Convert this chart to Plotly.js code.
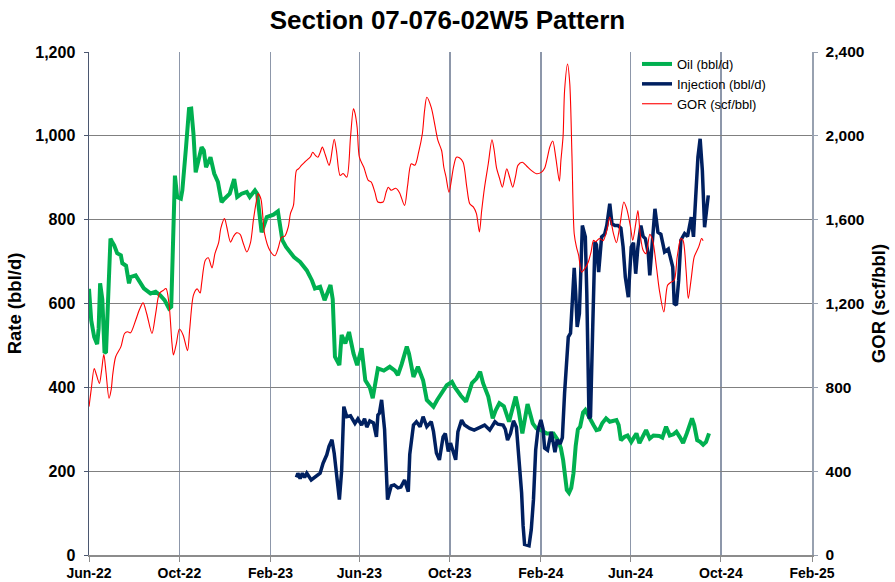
<!DOCTYPE html>
<html><head><meta charset="utf-8">
<script src="https://cdn.plot.ly/plotly-3.0.1.min.js"></script>
<style>html,body{margin:0;padding:0;background:#fff}#chart{width:895px;height:582px}</style>
</head><body><div id="chart"></div>
<script>
const chartTitle = 'Section 07-076-02W5 Pattern';
const xTickVals = ['2022-06-01','2022-10-01','2023-02-01','2023-06-01','2023-10-01','2024-02-01','2024-06-01','2024-10-01','2025-02-01'];
const xTickText = ['Jun-22','Oct-22','Feb-23','Jun-23','Oct-23','Feb-24','Jun-24','Oct-24','Feb-25'];

const oilDates = ['2022-06-01','2022-06-04','2022-06-08','2022-06-12','2022-06-14','2022-06-16','2022-06-19','2022-06-22','2022-06-24','2022-06-27','2022-06-30','2022-07-02','2022-07-05','2022-07-09','2022-07-14','2022-07-16','2022-07-21','2022-07-25','2022-07-27','2022-08-03','2022-08-08','2022-08-14','2022-08-23','2022-08-30','2022-09-05','2022-09-11','2022-09-17','2022-09-20','2022-09-25','2022-09-28','2022-10-03','2022-10-05','2022-10-10','2022-10-14','2022-10-17','2022-10-20','2022-10-23','2022-10-28','2022-10-31','2022-11-03','2022-11-06','2022-11-12','2022-11-17','2022-11-22','2022-11-27','2022-12-01','2022-12-08','2022-12-14','2022-12-18','2022-12-24','2022-12-31','2023-01-04','2023-01-11','2023-01-14','2023-01-20','2023-01-27','2023-02-05','2023-02-11','2023-02-17','2023-02-22','2023-02-27','2023-03-05','2023-03-13','2023-03-17','2023-03-22','2023-03-29','2023-04-02','2023-04-09','2023-04-15','2023-04-23','2023-04-26','2023-04-29','2023-05-05','2023-05-08','2023-05-13','2023-05-18','2023-05-24','2023-05-29','2023-06-04','2023-06-09','2023-06-15','2023-06-19','2023-06-26','2023-07-04','2023-07-12','2023-07-19','2023-07-23','2023-07-28','2023-08-04','2023-08-07','2023-08-13','2023-08-19','2023-08-26','2023-08-31','2023-09-09','2023-09-14','2023-09-22','2023-09-27','2023-10-04','2023-10-08','2023-10-16','2023-10-23','2023-10-31','2023-11-06','2023-11-11','2023-11-15','2023-11-22','2023-11-28','2023-12-02','2023-12-07','2023-12-13','2023-12-20','2023-12-29','2024-01-02','2024-01-07','2024-01-14','2024-01-21','2024-01-26','2024-02-01','2024-02-09','2024-02-18','2024-02-24','2024-02-28','2024-03-02','2024-03-07','2024-03-10','2024-03-13','2024-03-16','2024-03-19','2024-03-22','2024-03-25','2024-03-29','2024-04-01','2024-04-04','2024-04-09','2024-04-12','2024-04-16','2024-04-20','2024-04-24','2024-04-29','2024-05-04','2024-05-13','2024-05-16','2024-05-19','2024-05-24','2024-05-28','2024-06-02','2024-06-09','2024-06-13','2024-06-17','2024-06-22','2024-06-27','2024-07-02','2024-07-10','2024-07-14','2024-07-19','2024-07-24','2024-07-29','2024-08-02','2024-08-07','2024-08-11','2024-08-16','2024-08-23','2024-08-26','2024-08-30','2024-09-03','2024-09-07','2024-09-11','2024-09-15'];
const oilRate = [635,560,520,503,540,648,610,482,485,650,755,748,739,720,715,696,690,648,663,667,651,636,624,628,620,608,588,592,905,854,850,870,973,1064,1065,1005,913,949,973,965,925,949,910,890,842,850,862,897,854,862,866,854,870,862,770,806,812,820,751,735,723,710,699,690,679,655,636,640,608,644,610,473,453,525,505,532,481,453,493,417,400,374,445,440,449,440,429,455,497,480,425,449,417,370,354,370,394,405,413,400,380,366,410,421,437,410,378,326,345,362,355,318,378,345,290,360,314,302,298,290,290,274,255,227,155,148,160,195,260,300,306,340,346,335,322,310,298,300,315,326,318,322,310,274,282,285,270,290,267,280,298,278,285,284,280,306,285,288,294,280,267,290,326,310,274,270,263,270,290];

const injDates = ['2023-03-08','2023-03-10','2023-03-13','2023-03-16','2023-03-19','2023-03-22','2023-03-28','2023-04-03','2023-04-09','2023-04-13','2023-04-18','2023-04-21','2023-04-25','2023-04-28','2023-05-01','2023-05-05','2023-05-08','2023-05-11','2023-05-15','2023-05-20','2023-05-26','2023-05-30','2023-06-04','2023-06-08','2023-06-11','2023-06-15','2023-06-20','2023-06-24','2023-06-26','2023-06-28','2023-07-01','2023-07-05','2023-07-09','2023-07-14','2023-07-18','2023-07-23','2023-07-27','2023-08-01','2023-08-06','2023-08-08','2023-08-13','2023-08-17','2023-08-22','2023-08-26','2023-08-31','2023-09-06','2023-09-09','2023-09-13','2023-09-17','2023-09-22','2023-09-25','2023-09-29','2023-10-02','2023-10-05','2023-10-09','2023-10-12','2023-10-17','2023-10-21','2023-10-28','2023-11-03','2023-11-10','2023-11-17','2023-11-24','2023-12-01','2023-12-05','2023-12-12','2023-12-15','2023-12-18','2023-12-22','2023-12-26','2023-12-30','2024-01-03','2024-01-06','2024-01-08','2024-01-10','2024-01-16','2024-01-19','2024-01-22','2024-01-25','2024-01-28','2024-02-01','2024-02-04','2024-02-06','2024-02-10','2024-02-15','2024-02-20','2024-02-23','2024-02-27','2024-03-01','2024-03-04','2024-03-09','2024-03-12','2024-03-15','2024-03-17','2024-03-19','2024-03-21','2024-03-24','2024-03-27','2024-03-28','2024-04-01','2024-04-03','2024-04-06','2024-04-08','2024-04-11','2024-04-14','2024-04-16','2024-04-19','2024-04-23','2024-04-27','2024-04-30','2024-05-04','2024-05-07','2024-05-11','2024-05-15','2024-05-19','2024-05-22','2024-05-25','2024-05-29','2024-06-02','2024-06-05','2024-06-08','2024-06-11','2024-06-15','2024-06-18','2024-06-21','2024-06-25','2024-06-27','2024-07-01','2024-07-04','2024-07-08','2024-07-12','2024-07-17','2024-07-22','2024-07-28','2024-07-30','2024-08-02','2024-08-05','2024-08-08','2024-08-13','2024-08-17','2024-08-22','2024-08-25','2024-08-28','2024-08-31','2024-09-03','2024-09-06','2024-09-09','2024-09-11','2024-09-14'];
const injRate = [185,195,182,195,185,195,179,188,195,219,239,259,275,243,190,132,200,354,330,332,314,325,310,325,305,320,315,282,334,338,370,300,132,165,167,160,162,179,151,240,310,318,306,330,306,318,295,243,227,282,290,247,267,250,227,294,322,310,302,298,305,310,298,318,312,310,300,274,290,320,305,220,148,70,25,22,60,132,251,298,322,300,255,250,294,245,275,265,280,386,520,529,608,685,624,544,576,735,786,759,624,326,330,544,747,740,675,759,765,786,838,790,786,786,780,735,663,615,735,745,671,735,786,760,755,719,667,759,826,770,765,723,730,687,600,596,655,751,767,760,806,759,870,949,993,917,782,814,858];

const gorDates = ['2022-06-01','2022-06-04','2022-06-08','2022-06-11','2022-06-15','2022-06-18','2022-06-21','2022-06-24','2022-06-28','2022-07-01','2022-07-03','2022-07-07','2022-07-14','2022-07-19','2022-07-23','2022-07-27','2022-08-03','2022-08-08','2022-08-13','2022-08-18','2022-08-25','2022-08-30','2022-09-04','2022-09-09','2022-09-13','2022-09-17','2022-09-21','2022-09-23','2022-09-27','2022-10-01','2022-10-06','2022-10-12','2022-10-15','2022-10-20','2022-10-25','2022-10-29','2022-10-31','2022-11-05','2022-11-09','2022-11-14','2022-11-18','2022-11-23','2022-11-26','2022-12-01','2022-12-04','2022-12-09','2022-12-13','2022-12-17','2022-12-22','2022-12-26','2022-12-31','2023-01-05','2023-01-09','2023-01-13','2023-01-15','2023-01-19','2023-01-24','2023-01-31','2023-02-07','2023-02-11','2023-02-16','2023-02-20','2023-02-25','2023-02-28','2023-03-04','2023-03-08','2023-03-11','2023-03-15','2023-03-19','2023-03-24','2023-03-27','2023-03-30','2023-04-03','2023-04-06','2023-04-09','2023-04-12','2023-04-16','2023-04-21','2023-04-23','2023-04-28','2023-05-01','2023-05-06','2023-05-10','2023-05-15','2023-05-20','2023-05-24','2023-05-26','2023-05-29','2023-06-01','2023-06-07','2023-06-13','2023-06-17','2023-06-22','2023-06-26','2023-07-03','2023-07-07','2023-07-10','2023-07-14','2023-07-20','2023-07-25','2023-08-01','2023-08-05','2023-08-10','2023-08-15','2023-08-20','2023-08-25','2023-08-28','2023-08-31','2023-09-06','2023-09-11','2023-09-15','2023-09-20','2023-09-23','2023-09-26','2023-09-30','2023-10-06','2023-10-10','2023-10-14','2023-10-19','2023-10-24','2023-10-28','2023-11-02','2023-11-06','2023-11-10','2023-11-13','2023-11-17','2023-11-22','2023-11-27','2023-11-30','2023-12-03','2023-12-07','2023-12-11','2023-12-14','2023-12-17','2023-12-21','2023-12-25','2023-12-29','2024-01-01','2024-01-07','2024-01-13','2024-01-19','2024-01-26','2024-02-02','2024-02-06','2024-02-10','2024-02-13','2024-02-17','2024-02-21','2024-02-26','2024-02-28','2024-03-02','2024-03-04','2024-03-08','2024-03-11','2024-03-14','2024-03-17','2024-03-20','2024-03-23','2024-03-27','2024-04-01','2024-04-05','2024-04-09','2024-04-12','2024-04-15','2024-04-20','2024-04-25','2024-04-30','2024-05-04','2024-05-09','2024-05-13','2024-05-18','2024-05-23','2024-05-27','2024-06-01','2024-06-04','2024-06-08','2024-06-11','2024-06-14','2024-06-18','2024-06-22','2024-06-27','2024-07-01','2024-07-06','2024-07-10','2024-07-16','2024-07-21','2024-07-25','2024-07-30','2024-08-03','2024-08-08','2024-08-11','2024-08-15','2024-08-18','2024-08-22','2024-08-26','2024-09-01','2024-09-05','2024-09-07'];
const gorValues = [708,790,890,860,819,880,958,870,748,790,860,946,993,1057,1065,1060,1120,1170,1203,1150,1057,1152,1248,1262,1271,1200,1010,954,1010,1078,1050,975,1080,1240,1270,1250,1295,1406,1418,1370,1438,1490,1560,1605,1565,1493,1520,1537,1530,1490,1446,1490,1600,1690,1724,1700,1533,1454,1428,1460,1517,1520,1565,1630,1668,1835,1843,1860,1874,1890,1900,1922,1905,1898,1920,1946,1910,1859,1880,1984,1930,1811,1820,1803,1993,2129,2110,2040,1898,1850,1787,1779,1730,1684,1684,1730,1755,1740,1750,1730,1668,1760,1867,1860,1922,2010,2120,2184,2136,2050,1978,1930,1850,1803,1731,1850,1898,1895,1874,1755,1676,1660,1629,1541,1640,1755,1867,1981,1930,1850,1800,1755,1800,1843,1800,1755,1810,1859,1874,1855,1835,1819,1827,1845,1900,1946,1975,1900,1783,1880,2000,2216,2343,2250,1900,1533,1470,1430,1350,1370,1398,1450,1501,1495,1510,1500,1549,1612,1533,1490,1581,1684,1650,1565,1501,1580,1644,1533,1454,1438,1530,1500,1374,1263,1160,1287,1300,1311,1422,1510,1501,1359,1224,1320,1422,1470,1510,1500];

const FONT = 'Liberation Sans, Arial, Helvetica, sans-serif';
const PX0 = 89, PX1 = 812, PY0 = 52, PY1 = 555;
const px = v => (v - PX0) / (PX1 - PX0);
const py = v => (PY1 - v) / (PY1 - PY0);

const traces = [
  {x: oilDates, y: oilRate, name: 'Oil (bbl/d)', type: 'scatter', mode: 'lines',
   line: {color: '#00B050', width: 4}, yaxis: 'y'},
  {x: injDates, y: injRate, name: 'Injection (bbl/d)', type: 'scatter', mode: 'lines',
   line: {color: '#002060', width: 3.5}, yaxis: 'y'},
  {x: gorDates, y: gorValues, name: 'GOR (scf/bbl)', type: 'scatter', mode: 'lines',
   line: {color: '#FF0000', width: 1.1, shape: 'spline', smoothing: 0.8}, yaxis: 'y2'}
];

const layout = {
  width: 895, height: 582,
  margin: {l: 89, r: 83, t: 52, b: 27, pad: 0},
  paper_bgcolor: '#ffffff', plot_bgcolor: '#ffffff',
  font: {family: FONT, color: '#000000'},
  title: {text: chartTitle, font: {family: FONT, size: 26, weight: 'bold', color: '#000'},
          x: 0.5, xref: 'container', xanchor: 'center', y: 0.965, yref: 'container', yanchor: 'middle'},
  xaxis: {type: 'date', range: ['2022-06-01', '2025-02-01'], tickmode: 'array',
          tickvals: xTickVals, ticktext: xTickText, showgrid: true, gridcolor: '#8d97aa', gridwidth: 1.5,
          ticks: 'outside', ticklen: 5, tickcolor: '#8c8c8c', showline: true, linecolor: '#8c8c8c', linewidth: 1.5,
          zeroline: false, tickfont: {family: FONT, size: 14, weight: 'bold', color: '#000'}, fixedrange: true},
  yaxis: {range: [0, 1200], tickmode: 'linear', tick0: 0, dtick: 200, tickformat: ',d',
          showgrid: true, gridcolor: '#808080', gridwidth: 1, zeroline: false,
          showline: true, linecolor: '#4b5770', linewidth: 1.5, ticks: 'outside', ticklen: 4, tickcolor: '#4b5770',
          ticklabelstandoff: 5,
          tickfont: {family: FONT, size: 16, weight: 'bold', color: '#000'},
          title: {text: 'Rate (bbl/d)', font: {family: FONT, size: 18.5, weight: 'bold', color: '#000'}, standoff: 9},
          fixedrange: true},
  yaxis2: {overlaying: 'y', side: 'right', range: [0, 2400], tickmode: 'linear', tick0: 0, dtick: 400, tickformat: ',d',
           showgrid: false, zeroline: false, showline: true, linecolor: '#98a1b0', linewidth: 1.5,
           ticks: 'outside', ticklen: 4, tickcolor: '#98a1b0', ticklabelstandoff: 5,
           tickfont: {family: FONT, size: 15.5, weight: 'bold', color: '#000'},
           title: {text: 'GOR (scf/bbl)', font: {family: FONT, size: 18.5, weight: 'bold', color: '#000'}, standoff: 8},
           fixedrange: true},
  legend: {x: px(637), y: py(49), xanchor: 'left', yanchor: 'top', bgcolor: 'rgba(0,0,0,0)', borderwidth: 0,
           font: {family: FONT, size: 13, color: '#000'}, tracegroupgap: 0},
  shapes: [{type: 'rect', xref: 'paper', yref: 'paper', x0: px(600), x1: px(735), y0: py(118), y1: py(54),
            fillcolor: '#ffffff', line: {width: 0}, layer: 'between'}],
  showlegend: true
};

Plotly.newPlot('chart', traces, layout, {staticPlot: true, displayModeBar: false});
</script></body></html>
